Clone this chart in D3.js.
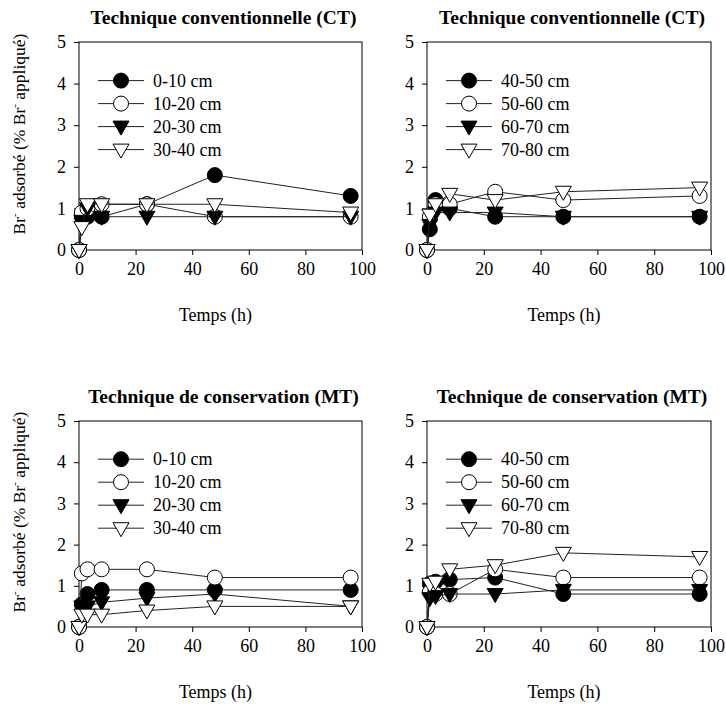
<!DOCTYPE html>
<html><head><meta charset="utf-8">
<script src="https://cdn.jsdelivr.net/npm/d3@7"></script>
<style>body{margin:0;background:#fff}svg{display:block}text{font-family:"Liberation Serif","Times New Roman",serif;fill:#000}</style>
</head><body><svg id="c" width="726" height="704"></svg>
<script>
// ---- data ----
const times = [0, 1, 3, 8, 24, 48, 96];
const xTicks = [0, 20, 40, 60, 80, 100];
const yTicks = [0, 1, 2, 3, 4, 5];
const titles = ["Technique conventionnelle (CT)", "Technique conventionnelle (CT)", "Technique de conservation (MT)", "Technique de conservation (MT)"];
const labelsTop = ["0-10 cm", "10-20 cm", "20-30 cm", "30-40 cm"];
const labelsDeep = ["40-50 cm", "50-60 cm", "60-70 cm", "70-80 cm"];
const ct_0_10  = [0, 0.8, 0.8, 0.8, 1.1, 1.8, 1.3];
const ct_10_20 = [0, 0.9, 1.0, 1.1, 1.1, 0.8, 0.8];
const ct_20_30 = [0, 0.7, 1.0, 0.8, 0.8, 0.8, 0.8];
const ct_30_40 = [0, 0.55, 1.1, 1.1, 1.1, 1.1, 0.9];
const ct_40_50 = [0, 0.5, 1.2, 1.0, 0.8, 0.8, 0.8];
const ct_50_60 = [0, 0.8, 1.1, 1.1, 1.4, 1.2, 1.3];
const ct_60_70 = [0, 0.6, 0.9, 0.9, 0.9, 0.8, 0.8];
const ct_70_80 = [0, 0.85, 1.1, 1.35, 1.2, 1.4, 1.5];
const mt_0_10  = [0, 0.55, 0.8, 0.9, 0.9, 0.9, 0.9];
const mt_10_20 = [0, 1.3, 1.4, 1.4, 1.4, 1.2, 1.2];
const mt_20_30 = [0, 0.5, 0.5, 0.6, 0.7, 0.8, 0.5];
const mt_30_40 = [0, 0.3, 0.3, 0.3, 0.4, 0.5, 0.5];
const mt_40_50 = [0, 1.05, 1.1, 1.15, 1.2, 0.8, 0.8];
const mt_50_60 = [0, 0.85, 0.8, 0.8, 1.4, 1.2, 1.2];
const mt_60_70 = [0, 0.7, 0.75, 0.8, 0.8, 0.9, 0.9];
const mt_70_80 = [0, 1.05, 1.1, 1.4, 1.5, 1.8, 1.7];

const panels = [
  {title: titles[0], labels: labelsTop, series: [ct_0_10, ct_10_20, ct_20_30, ct_30_40], x0: 79, x1: 362, y0: 250, y1: 42, ylab: true},
  {title: titles[1], labels: labelsDeep, series: [ct_40_50, ct_50_60, ct_60_70, ct_70_80], x0: 427, x1: 711, y0: 250, y1: 42, ylab: false},
  {title: titles[2], labels: labelsTop, series: [mt_0_10, mt_10_20, mt_20_30, mt_30_40], x0: 79, x1: 362, y0: 627, y1: 421, ylab: true},
  {title: titles[3], labels: labelsDeep, series: [mt_40_50, mt_50_60, mt_60_70, mt_70_80], x0: 427, x1: 711, y0: 627, y1: 421, ylab: false}
];
const markers = [
  {shape: "circle", fill: "#000"},
  {shape: "circle", fill: "#fff"},
  {shape: "tri", fill: "#000"},
  {shape: "tri", fill: "#fff"}
];

const svg = d3.select("#c");
function drawMarker(g, m, x, y) {
  if (m.shape === "circle") {
    g.append("circle").attr("cx", x).attr("cy", y).attr("r", 7.5)
      .attr("fill", m.fill).attr("stroke", "#000").attr("stroke-width", 1);
  } else {
    g.append("path").attr("transform", `translate(${x},${y})`)
      .attr("d", "M-8,-5.5L8,-5.5L0,8.5Z")
      .attr("fill", m.fill).attr("stroke", "#000").attr("stroke-width", 1);
  }
}

panels.forEach(p => {
  const x = d3.scaleLinear().domain([0, 100]).range([p.x0, p.x1]);
  const y = d3.scaleLinear().domain([0, 5]).range([p.y0, p.y1]);
  const g = svg.append("g");
  // frame
  g.append("rect").attr("x", p.x0).attr("y", p.y1).attr("width", p.x1 - p.x0).attr("height", p.y0 - p.y1)
    .attr("fill", "none").attr("stroke", "#000").attr("stroke-width", 1);
  const xa = g.append("g").attr("transform", `translate(0,${p.y0})`)
    .call(d3.axisBottom(x).tickValues(xTicks).tickSize(5).tickPadding(7).tickFormat(d3.format("d")));
  const ya = g.append("g").attr("transform", `translate(${p.x0},0)`)
    .call(d3.axisLeft(y).tickValues(yTicks).tickSize(5).tickPadding(8).tickFormat(d3.format("d")));
  [xa, ya].forEach(a => {
    a.select(".domain").remove();
    a.selectAll("line").attr("stroke", "#000");
    a.selectAll("text").style("font-family", '"Liberation Serif",serif').style("font-size", "18px").attr("fill", "#000");
  });
  // title
  g.append("text").attr("x", (p.x0 + p.x1) / 2 + 3).attr("y", p.y1 - 18).attr("text-anchor", "middle")
    .style("font-size", "19.5px").style("font-weight", "bold").text(p.title);
  g.append("text").attr("x", (p.x0 + p.x1) / 2 - 5).attr("y", p.y0 + 71).attr("text-anchor", "middle")
    .style("font-size", "18px").text("Temps (h)");
  if (p.ylab) {
    const t = g.append("text").attr("transform", `translate(25,${(p.y0 + p.y1) / 2 - 12}) rotate(-90)`)
      .attr("text-anchor", "middle").style("font-size", "17.5px");
    t.append("tspan").text("Br");
    t.append("tspan").attr("dy", -7).style("font-size", "11px").text("-");
    t.append("tspan").attr("dy", 7).text(" adsorbé (% Br");
    t.append("tspan").attr("dy", -7).style("font-size", "11px").text("-");
    t.append("tspan").attr("dy", 7).text(" appliqué)");
  }
  // series
  const line = d3.line().x((d, i) => x(times[i])).y(d => y(d));
  p.series.forEach((s, k) => {
    g.append("path").datum(s).attr("d", line).attr("fill", "none").attr("stroke", "#222").attr("stroke-width", 1);
    s.forEach((v, i) => drawMarker(g, markers[k], x(times[i]), y(v)));
  });
  // legend
  p.labels.forEach((lab, k) => {
    const ly = y(4) - 3 + k * 23;
    g.append("line").attr("x1", p.x0 + 19).attr("x2", p.x0 + 65).attr("y1", ly).attr("y2", ly)
      .attr("stroke", "#222").attr("stroke-width", 1);
    drawMarker(g, markers[k], p.x0 + 42, ly);
    g.append("text").attr("x", p.x0 + 74).attr("y", ly + 6).style("font-size", "18px").text(lab);
  });
});
</script></body></html>
